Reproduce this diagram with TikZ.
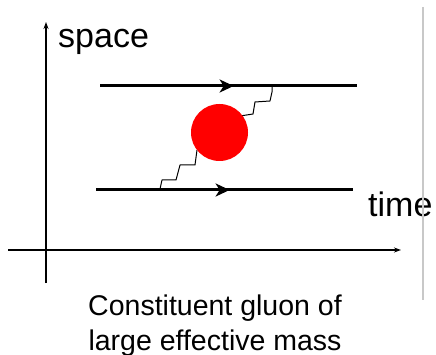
\documentclass[tikz,border=0pt]{standalone}
\usepackage{fontspec}
\setmainfont{Liberation Sans}
\usetikzlibrary{arrows.meta,decorations.markings}
\definecolor{blobcolor}{RGB}{255,0,0}
\definecolor{rulecolor}{RGB}{200,200,200}
\tikzset{
  axis/.style={
    line width=1.4pt,
    -{Stealth[length=7pt,width=5pt]}
  },
  quark/.style={
    line width=3pt,
    postaction={decorate},
    decoration={markings,
      mark=at position 0.52 with {\arrow{Stealth[length=14pt,width=13pt,inset=4pt]}}}
  },
  gluon/.style={
    line width=1pt,
    line join=round
  },
  label/.style={
    inner sep=0pt,
    anchor=base west,
    font=\fontsize{34}{36}\selectfont
  },
  caption/.style={
    inner sep=0pt,
    anchor=base,
    font=\fontsize{28.5}{35}\selectfont
  }
}

\begin{document}
\begin{tikzpicture}[x=1pt,y=-1pt]
  \useasboundingbox (0,0) rectangle (436,355);

  % axes
  \coordinate (origin low) at (46,283);
  \coordinate (space end) at (46,22);
  \coordinate (time start) at (8,250);
  \coordinate (time end) at (401,250);
  \draw[axis] (origin low) -- (space end);
  \draw[axis] (time start) -- (time end);
  \node[label] (space) at (58,48) {space};
  \node[label] (time) at (368,217) {time};

  % quark lines
  \coordinate (top in) at (100,86);
  \coordinate (top out) at (357,86);
  \coordinate (bot in) at (96,190);
  \coordinate (bot out) at (353,190);
  \draw[quark] (top in) -- (top out);
  \draw[quark] (bot in) -- (bot out);

  % gluons
  \coordinate (g low) at (160,189);
  \coordinate (g high) at (272,86);
  \draw[gluon] (g low) -- (162,180) -- (176,180) -- (180,165)
    -- (195,165) -- (197,150);
  \draw[gluon] (g high) -- (272,92) -- (270,101) -- (255,102)
    -- (253,114) -- (240,116);

  % constituent gluon
  \node[circle, fill=blobcolor, minimum size=57pt, inner sep=0pt]
    (blob) at (219.5,132.5) {};

  % caption
  \node[caption] (cap1) at (215,315) {Constituent gluon of};
  \node[caption] (cap2) at (215,350) {large effective mass};

  % frame edge
  \draw[rulecolor, line width=1.4pt] (423,7) -- (423,300);
\end{tikzpicture}
\end{document}
